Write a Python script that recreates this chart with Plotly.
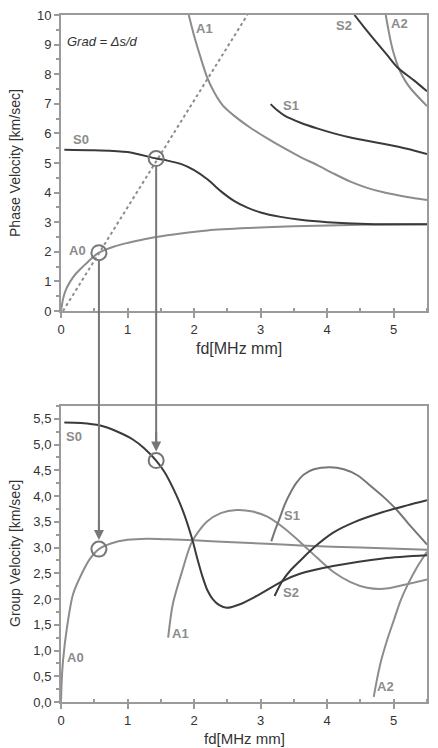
import plotly.graph_objects as go

# ---------------- Data ----------------
# Phase velocity (top)
s0_ph_x = [0.05, 0.5, 1.0, 1.43, 1.6, 1.8, 2.0, 2.2, 2.4, 2.6, 2.8, 3.0, 3.3, 3.6, 4.0, 4.6, 5.5]
s0_ph_y = [5.45, 5.43, 5.37, 5.15, 5.08, 4.97, 4.76, 4.45, 4.05, 3.72, 3.49, 3.33, 3.18, 3.08, 3.0, 2.94, 2.93]
a0_ph_x = [0.0, 0.03, 0.07, 0.14, 0.22, 0.33, 0.45, 0.57, 0.8, 1.0, 1.2, 1.43, 1.8, 2.2, 2.8, 3.5, 4.5, 5.5]
a0_ph_y = [0.0, 0.4, 0.7, 1.0, 1.25, 1.5, 1.76, 1.97, 2.18, 2.3, 2.4, 2.5, 2.62, 2.72, 2.8, 2.86, 2.91, 2.93]
a1_ph_x = [1.92, 2.0, 2.1, 2.19, 2.3, 2.43, 2.6, 2.84, 3.1, 3.36, 3.6, 3.86, 4.1, 4.35, 4.6, 4.86, 5.2, 5.5]
a1_ph_y = [10.0, 9.3, 8.55, 7.93, 7.4, 6.95, 6.6, 6.2, 5.83, 5.49, 5.2, 4.92, 4.64, 4.37, 4.16, 4.0, 3.85, 3.75]
s1_ph_x = [3.15, 3.25, 3.36, 3.6, 3.86, 4.1, 4.35, 4.6, 4.86, 5.2, 5.5]
s1_ph_y = [6.99, 6.78, 6.6, 6.36, 6.16, 6.0, 5.86, 5.75, 5.64, 5.48, 5.3]
s2_ph_x = [4.41, 4.55, 4.71, 4.9, 5.06, 5.3, 5.5]
s2_ph_y = [10.0, 9.6, 9.16, 8.65, 8.22, 7.8, 7.42]
a2_ph_x = [4.88, 4.95, 5.0, 5.09, 5.18, 5.26, 5.5]
a2_ph_y = [10.0, 9.16, 8.7, 8.12, 7.75, 7.5, 6.92]
grad_x = [0.03, 2.8]
grad_y = [0.0, 10.0]

# Group velocity (bottom)
s0_gr_x = [0.05, 0.3, 0.59, 0.85, 1.08, 1.25, 1.43, 1.56, 1.74, 1.85, 1.97, 2.05, 2.13, 2.2, 2.28, 2.38, 2.49, 2.69, 2.94, 3.33, 3.59, 4.09, 4.84, 5.5]
s0_gr_y = [5.43, 5.42, 5.37, 5.25, 5.1, 4.93, 4.69, 4.46, 4.0, 3.65, 3.17, 2.78, 2.42, 2.17, 2.0, 1.88, 1.83, 1.9, 2.06, 2.35, 2.49, 2.64, 2.79, 2.85]
a0_gr_x = [0.0, 0.01, 0.03, 0.09, 0.18, 0.33, 0.44, 0.57, 0.75, 1.0, 1.3, 1.6, 2.0, 2.5, 3.0, 3.6, 4.5, 5.5]
a0_gr_y = [0.0, 0.4, 0.8, 1.45, 2.09, 2.54, 2.79, 2.97, 3.08, 3.15, 3.17, 3.16, 3.14, 3.11, 3.08, 3.04, 3.0, 2.96]
a1_gr_x = [1.61, 1.68, 1.82, 1.97, 2.19, 2.4, 2.64, 2.88, 3.1, 3.35, 3.6, 3.85, 4.1, 4.35, 4.6, 4.85, 5.1, 5.5]
a1_gr_y = [1.25, 1.9, 2.54, 3.12, 3.5, 3.67, 3.73, 3.7, 3.6, 3.38, 3.1, 2.8, 2.52, 2.33, 2.22, 2.2, 2.26, 2.38]
s1_gr_x = [3.16, 3.22, 3.29, 3.36, 3.45, 3.54, 3.65, 3.8, 4.04, 4.25, 4.46, 4.65, 4.85, 5.04, 5.25, 5.5]
s1_gr_y = [3.12, 3.35, 3.58, 3.83, 4.07, 4.26, 4.42, 4.52, 4.56, 4.52, 4.4, 4.2, 3.98, 3.74, 3.42, 3.06]
s2_gr_x = [3.21, 3.33, 3.45, 3.59, 3.8, 4.09, 4.4, 4.84, 5.2, 5.5]
s2_gr_y = [2.06, 2.36, 2.56, 2.74, 3.0, 3.29, 3.49, 3.69, 3.82, 3.92]
a2_gr_x = [4.7, 4.75, 4.81, 4.9, 5.01, 5.1, 5.21, 5.35, 5.5]
a2_gr_y = [0.1, 0.45, 0.8, 1.2, 1.62, 1.96, 2.28, 2.62, 2.92]

# Marked points (circles) and their projection
mark_x = [0.57, 1.43]
mark_phase = [1.97, 5.15]
mark_group = [2.97, 4.69]

# Labels
top_labels = [("S0", 0.3, 5.8), ("A0", 0.25, 2.05), ("A1", 2.15, 9.55),
              ("S1", 3.45, 6.95), ("S2", 4.26, 9.65), ("A2", 5.09, 9.7)]
bot_labels = [("S0", 0.2, 5.15), ("A0", 0.22, 0.87), ("A1", 1.79, 1.33),
              ("S1", 3.47, 3.62), ("S2", 3.45, 2.12), ("A2", 4.88, 0.31)]

# ---------------- Styling ----------------
DARK = "#3a3a3a"
LIGHT = "#8c8c8c"
MID = "#777777"
AX = "#9a9a9a"
FONT = "Liberation Sans"

W, H = 438, 748
M_L, M_R, M_T, M_B = 61, 11, 8, 46
plot_h = H - M_T - M_B
top_dom = [(702 - 307) / plot_h, 1.0]
bot_dom = [0.0, (702 - 403) / plot_h]
top_rng = [0, 10]
bot_rng = [0, 5.75]

fig = go.Figure()

def line(x, y, color, xa, ya, width=2.0, dash=None, shape="spline"):
    fig.add_trace(go.Scatter(x=x, y=y, mode="lines", xaxis=xa, yaxis=ya,
                             line=dict(color=color, width=width, shape=shape,
                                       smoothing=0.8, dash=dash),
                             hoverinfo="skip", showlegend=False))

# top
line(grad_x, grad_y, LIGHT, "x", "y", width=2, dash="dot", shape="linear")
line(a0_ph_x, a0_ph_y, LIGHT, "x", "y")
line(a1_ph_x, a1_ph_y, LIGHT, "x", "y")
line(a2_ph_x, a2_ph_y, LIGHT, "x", "y")
line(s0_ph_x, s0_ph_y, DARK, "x", "y")
line(s1_ph_x, s1_ph_y, DARK, "x", "y")
line(s2_ph_x, s2_ph_y, DARK, "x", "y")
# bottom
line(a0_gr_x, a0_gr_y, LIGHT, "x2", "y2")
line(a1_gr_x, a1_gr_y, LIGHT, "x2", "y2")
line(a2_gr_x, a2_gr_y, LIGHT, "x2", "y2")
line(s1_gr_x, s1_gr_y, MID, "x2", "y2")
line(s0_gr_x, s0_gr_y, DARK, "x2", "y2")
line(s2_gr_x, s2_gr_y, DARK, "x2", "y2")

# circles
circ = dict(symbol="circle-open", size=15, line=dict(width=2, color=MID), color=MID)
fig.add_trace(go.Scatter(x=mark_x, y=mark_phase, mode="markers", marker=circ,
                         xaxis="x", yaxis="y", showlegend=False, hoverinfo="skip"))
fig.add_trace(go.Scatter(x=mark_x, y=mark_group, mode="markers", marker=circ,
                         xaxis="x2", yaxis="y2", showlegend=False, hoverinfo="skip"))

# projection lines (paper coordinates derived from the axis scales)
def paper_y(v, rng, dom):
    return dom[0] + (v - rng[0]) / (rng[1] - rng[0]) * (dom[1] - dom[0])

r_px = 8
shapes = []
annotations = []
for mx, yp, yg in zip(mark_x, mark_phase, mark_group):
    y0 = paper_y(yp, top_rng, top_dom) - r_px / plot_h
    y1 = paper_y(yg, bot_rng, bot_dom) + (r_px + 4) / plot_h
    shapes.append(dict(type="line", xref="x", yref="paper", x0=mx, x1=mx, y0=y0, y1=y1,
                       line=dict(color=MID, width=2)))
    annotations.append(dict(x=mx, y=yg, xref="x2", yref="y2", text="", showarrow=True,
                            ax=0, ay=-30, arrowhead=2, arrowsize=1, arrowwidth=2,
                            arrowcolor=MID, standoff=r_px + 1))

lab_font = dict(family=FONT, size=13, color=LIGHT)
for t, x, y in top_labels:
    annotations.append(dict(x=x, y=y, xref="x", yref="y", text="<b>%s</b>" % t,
                            showarrow=False, font=lab_font))
for t, x, y in bot_labels:
    annotations.append(dict(x=x, y=y, xref="x2", yref="y2", text="<b>%s</b>" % t,
                            showarrow=False, font=lab_font))

annotations.append(dict(x=0.63, y=9.1, xref="x", yref="y", text="<i>Grad = Δs/d</i>",
                        showarrow=False, font=dict(family=FONT, size=13, color="#333")))

# axis titles
title_font = dict(family=FONT, size=14, color="#333")
annotations += [
    dict(x=0, y=sum(top_dom) / 2, xref="paper", yref="paper", xshift=-46,
         xanchor="center", yanchor="middle",
         text="Phase Velocity [km/sec]", textangle=-90, showarrow=False, font=title_font),
    dict(x=0, y=sum(bot_dom) / 2, xref="paper", yref="paper", xshift=-46,
         xanchor="center", yanchor="middle",
         text="Group Velocity [km/sec]", textangle=-90, showarrow=False, font=title_font),
    dict(x=0.485, y=top_dom[0], xref="paper", yref="paper", yshift=-38,
         xanchor="center", yanchor="middle",
         text="fd[MHz mm]", showarrow=False, font=dict(family=FONT, size=16, color="#333")),
    dict(x=0.5, y=bot_dom[0], xref="paper", yref="paper", yshift=-36,
         xanchor="center", yanchor="middle",
         text="fd[MHz mm]", showarrow=False, font=dict(family=FONT, size=15, color="#333")),
]

tick_font = dict(family=FONT, size=13, color="#333")
axis_common = dict(showline=True, linecolor=AX, linewidth=2, mirror=True,
                   showgrid=False, zeroline=False, ticks="outside", ticklen=5,
                   tickcolor=AX, tickwidth=1.5, tickfont=tick_font)

fig.update_layout(
    width=W, height=H, margin=dict(l=M_L, r=M_R, t=M_T, b=M_B),
    paper_bgcolor="white", plot_bgcolor="white", separators=",.",
    xaxis=dict(domain=[0, 1], anchor="y", range=[0, 5.5], dtick=1, tick0=0,
               minor=dict(dtick=0.5, ticks="inside", ticklen=3, tickcolor=AX),
               **axis_common),
    yaxis=dict(domain=top_dom, anchor="x", range=top_rng, dtick=1, tick0=0,
               minor=dict(dtick=0.5, ticks="outside", ticklen=3, tickcolor=AX),
               **axis_common),
    xaxis2=dict(domain=[0, 1], anchor="y2", range=[0, 5.5], dtick=1, tick0=0,
                minor=dict(dtick=0.5, ticks="inside", ticklen=3, tickcolor=AX),
                **axis_common),
    yaxis2=dict(domain=bot_dom, anchor="x2", range=bot_rng, dtick=0.5, tick0=0,
                tickformat=".1f",
                minor=dict(dtick=0.25, ticks="outside", ticklen=3, tickcolor=AX),
                **axis_common),
    shapes=shapes, annotations=annotations,
)

fig.write_html("out.html")
